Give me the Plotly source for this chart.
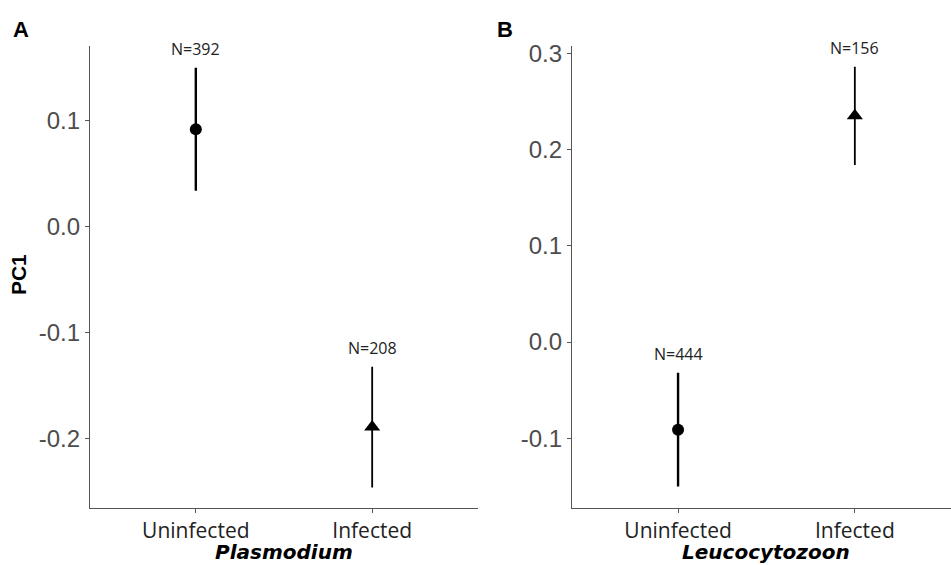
import plotly.graph_objects as go

# Group means of PC1 with 95% CI half-widths, by infection status
categories = ["Uninfected", "Infected"]
plas_mean = [0.092, -0.189]
plas_ci = [0.058, 0.057]
plas_n = [392, 208]
leuco_mean = [-0.091, 0.235]
leuco_ci = [0.059, 0.051]
leuco_n = [444, 156]

plas_ticks = [0.1, 0.0, -0.1, -0.2]
plas_ticktext = ["0.1", "0.0", "-0.1", "-0.2"]
leuco_ticks = [0.3, 0.2, 0.1, 0.0, -0.1]
leuco_ticktext = ["0.3", "0.2", "0.1", "0.0", "-0.1"]

W, H = 951, 565
symbols = ["circle", "triangle-up"]
sizes = [12, 14]

fig = go.Figure()

def add_panel(xref, yref, means, cis, ns):
    for i, cat in enumerate(categories):
        fig.add_trace(go.Scatter(
            x=[cat], y=[means[i]],
            mode="markers",
            marker=dict(symbol=symbols[i], size=sizes[i], color="black"),
            error_y=dict(type="data", array=[cis[i]], width=0,
                         thickness=2.4 if i == 0 else 1.8, color="black"),
            xaxis=xref, yaxis=yref, showlegend=False,
        ))
        fig.add_annotation(
            x=cat, y=means[i] + cis[i], xref=xref, yref=yref,
            text=f"N={ns[i]}", showarrow=False, yanchor="bottom", yshift=6,
            font=dict(family="Open Sans", size=16, color="#222222"),
        )

add_panel("x", "y", plas_mean, plas_ci, plas_n)
add_panel("x2", "y2", leuco_mean, leuco_ci, leuco_n)

ydom = [1 - 507 / H, 1 - 40 / H]
axis_common = dict(
    showgrid=False, zeroline=False, showline=True, linecolor="#555555",
    linewidth=1.3, ticks="outside", ticklen=4, tickcolor="#555555", tickwidth=1,
)
xfont = dict(family="Open Sans", size=21, color="#222222")
yfont = dict(family="Liberation Sans", size=24, color="#4d4d4d")

fig.update_layout(
    width=W, height=H,
    margin=dict(l=0, r=0, t=0, b=0),
    plot_bgcolor="white", paper_bgcolor="white",
    xaxis=dict(domain=[90 / W, 478 / W], type="category",
               categoryorder="array", categoryarray=categories,
               range=[-0.6, 1.6], anchor="y", tickfont=xfont, **axis_common),
    yaxis=dict(domain=ydom, range=[-0.265, 0.171], anchor="x",
               tickvals=plas_ticks, ticktext=plas_ticktext, tickfont=yfont,
               **axis_common),
    xaxis2=dict(domain=[572 / W, 1.0], type="category",
                categoryorder="array", categoryarray=categories,
                range=[-0.6, 1.544], anchor="y2", tickfont=xfont, **axis_common),
    yaxis2=dict(domain=ydom, range=[-0.172, 0.308], anchor="x2",
                tickvals=leuco_ticks, ticktext=leuco_ticktext, tickfont=yfont,
                **axis_common),
)

# Panel letters, shared y title and italic genus titles
def paper_text(x, y, text, size, family="Liberation Sans", angle=0):
    fig.add_annotation(
        x=x / W, y=1 - y / H, xref="paper", yref="paper", text=text,
        showarrow=False, textangle=angle, xanchor="center", yanchor="middle",
        font=dict(family=family, size=size, color="black"),
    )

paper_text(21, 24, "<b>A</b>", 22)
paper_text(505, 24, "<b>B</b>", 22)
paper_text(18, 272, "<b>PC1</b>", 21, angle=-90)
paper_text(284, 552, "<b><i>Plasmodium</i></b>", 20, family="DejaVu Sans")
paper_text(766, 552, "<b><i>Leucocytozoon</i></b>", 20, family="DejaVu Sans")

fig.write_html("out.html")
